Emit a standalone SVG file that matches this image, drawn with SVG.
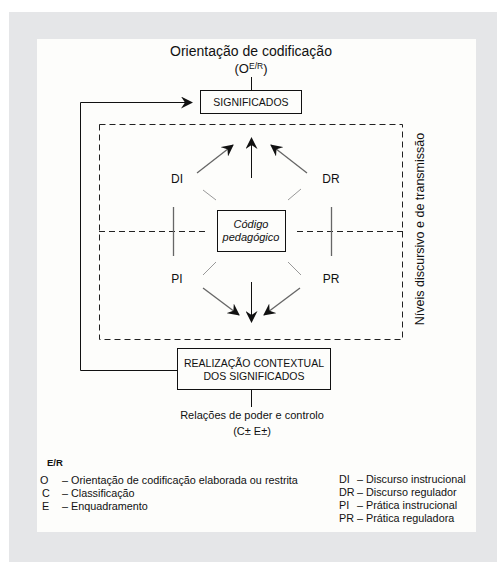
<svg xmlns="http://www.w3.org/2000/svg" width="497" height="562" viewBox="0 0 497 562">
<defs>
<style>
text{font-family:"Liberation Sans",Arial,sans-serif;fill:#111}
.box{fill:none;stroke:#111;stroke-width:1}
.ln{stroke:#111;stroke-width:1;fill:none}
.gl{stroke:#666;stroke-width:1.3;fill:none}
.lg{stroke:#999;stroke-width:1;fill:none}
.dash{stroke:#222;stroke-width:1;fill:none;stroke-dasharray:6 4}
.c{text-anchor:middle}
</style>
<marker id="ah" markerUnits="userSpaceOnUse" markerWidth="12" markerHeight="12" refX="11" refY="6" orient="auto" viewBox="0 0 12 12">
<path d="M0,0 L12,6 L0,12 L4,6 Z" fill="#111"/>
</marker>
</defs>
<rect x="9" y="12" width="488" height="550" fill="#e5e6e8"/>
<rect x="37" y="39" width="439" height="493" fill="#fdfdfb"/>

<g id="title">
<text x="251" y="56" class="c" font-size="14">Orientação de codificação</text>
<text x="251" y="73" class="c" font-size="13">(O<tspan font-size="8.5" dy="-4">E/R</tspan><tspan dy="4">)</tspan></text>
</g>

<g id="significados">
<rect class="box" x="200.5" y="90.5" width="101" height="23"/>
<text x="251" y="106" class="c" font-size="10.5">SIGNIFICADOS</text>
</g>

<g id="codigo">
<rect class="box" x="217.5" y="210.5" width="68" height="41"/>
<text x="251" y="228" class="c" font-size="11" font-style="italic">Código</text>
<text x="251" y="241" class="c" font-size="11" font-style="italic">pedagógico</text>
</g>

<g id="realizacao">
<rect class="box" x="177.5" y="348.5" width="153" height="41"/>
<text x="254" y="367" class="c" font-size="10.5">REALIZAÇÃO CONTEXTUAL</text>
<text x="254" y="380" class="c" font-size="10.5">DOS SIGNIFICADOS</text>
</g>

<g id="DI"><text x="177" y="183" class="c" font-size="12">DI</text></g>
<g id="DR"><text x="331" y="183" class="c" font-size="12">DR</text></g>
<g id="PI"><text x="177" y="283" class="c" font-size="12">PI</text></g>
<g id="PR"><text x="331" y="283" class="c" font-size="12">PR</text></g>

<g id="niveis">
<rect class="dash" x="99.5" y="124.5" width="303" height="215"/>
<text transform="translate(424,229) rotate(-90)" class="c" font-size="12.5">Níveis discursivo e de transmissão</text>
</g>

<g id="relacoes">
<text x="252" y="419" class="c" font-size="11">Relações de poder e controlo</text>
<text x="252" y="435" class="c" font-size="11">(C± E±)</text>
</g>

<g id="connectors">
<line class="ln" x1="251.5" y1="77" x2="251.5" y2="90"/>
<polyline class="ln" points="177,370.5 80.5,370.5 80.5,102.5 192,102.5" marker-end="url(#ah)"/>
<line class="dash" x1="99" y1="231.5" x2="207" y2="231.5"/>
<line class="dash" x1="297" y1="231.5" x2="403" y2="231.5"/>
<line class="gl" x1="173.5" y1="207" x2="173.5" y2="256"/>
<line class="gl" x1="331.5" y1="207" x2="331.5" y2="256"/>
<line class="lg" x1="203" y1="190" x2="216" y2="200"/>
<line class="lg" x1="301" y1="189" x2="288" y2="200"/>
<line class="lg" x1="216" y1="262" x2="203" y2="275"/>
<line class="lg" x1="288" y1="262" x2="301" y2="275"/>
<line class="gl" x1="197" y1="173" x2="233" y2="145" marker-end="url(#ah)"/>
<line class="ln" x1="251.5" y1="178" x2="251.5" y2="138" marker-end="url(#ah)"/>
<line class="gl" x1="307" y1="173" x2="271" y2="145" marker-end="url(#ah)"/>
<line class="gl" x1="203" y1="288" x2="239" y2="315" marker-end="url(#ah)"/>
<line class="ln" x1="251.5" y1="282" x2="251.5" y2="322" marker-end="url(#ah)"/>
<line class="gl" x1="300" y1="288" x2="264" y2="315" marker-end="url(#ah)"/>
<line class="ln" x1="251.5" y1="390" x2="251.5" y2="407"/>
</g>

<g id="legend-left" font-size="10.8">
<text x="40" y="484">O</text>
<text x="47" y="466" font-family="'Liberation Serif',serif" font-weight="bold" font-size="9.5">E/R</text>
<text x="62" y="484">– Orientação de codificação elaborada ou restrita</text>
<text x="42" y="497">C</text>
<text x="62" y="497">– Classificação</text>
<text x="42" y="510">E</text>
<text x="62" y="510">– Enquadramento</text>
</g>

<g id="legend-right" font-size="10.8">
<text x="339" y="483">DI</text>
<text x="357" y="483">– Discurso instrucional</text>
<text x="339" y="496">DR</text>
<text x="357" y="496">– Discurso regulador</text>
<text x="339" y="509">PI</text>
<text x="357" y="509">– Prática instrucional</text>
<text x="339" y="522">PR</text>
<text x="357" y="522">– Prática reguladora</text>
</g>
</svg>
